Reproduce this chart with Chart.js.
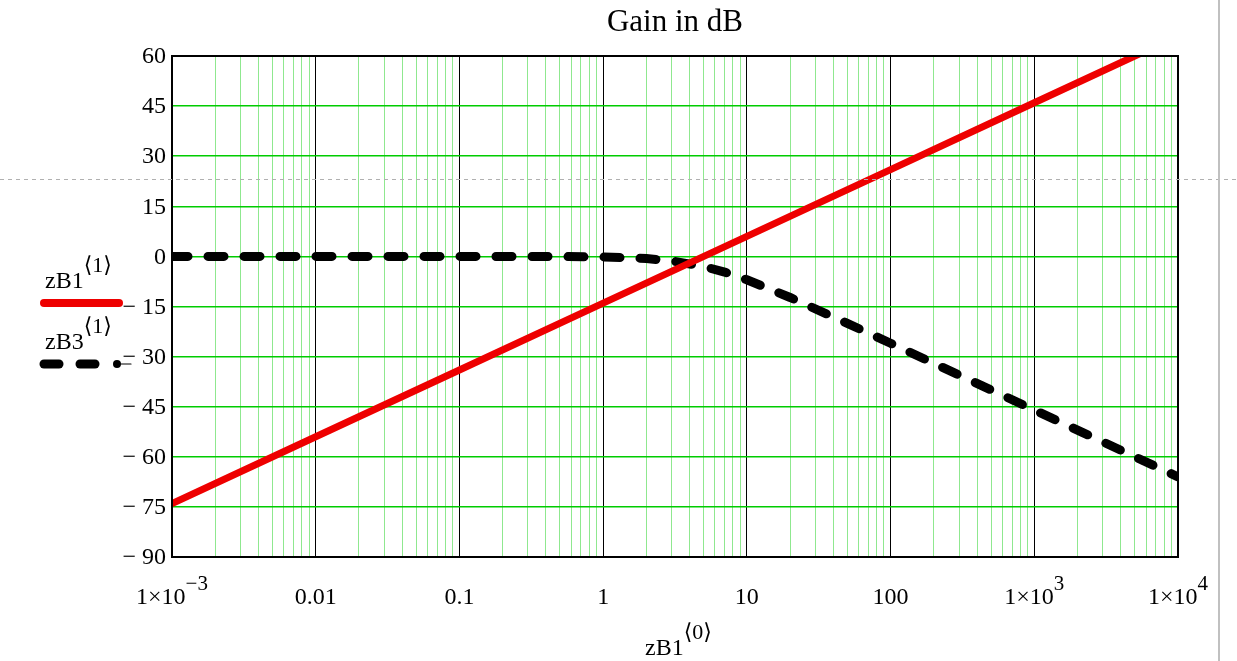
<!DOCTYPE html>
<html>
<head>
<meta charset="utf-8">
<title>Gain in dB</title>
<script src="https://cdn.jsdelivr.net/npm/chart.js@4.4.1/dist/chart.umd.min.js"></script>
<style>
  html, body { margin: 0; padding: 0; background: #fff; }
  #wrap { position: relative; width: 1237px; height: 661px; }
</style>
</head>
<body>
<div id="wrap"><canvas id="gain"></canvas></div>
<script>
// Frequency points (log axis) and gain of the two responses, in dB
const FREQ_B1 = [0.001, 0.01, 0.1, 1, 10, 100, 1000, 10000];
const GAIN_B1 = [-74, -54, -34, -14, 6, 26, 46, 66];

const FREQ_B3 = [0.001, 0.01, 0.1, 0.5, 1, 2, 3, 5, 7, 10, 20, 50, 100, 1000, 10000];
const GAIN_B3 = [0, 0, 0, -0.04, -0.17, -0.64, -1.34, -3.01, -4.7, -6.99, -12.3, -20.04, -26.0, -46.0, -66.0];

const Y_TICKS = [60, 45, 30, 15, 0, -15, -30, -45, -60, -75, -90];
// x tick labels: mantissa text + optional exponent drawn as superscript
const X_LABELS = [
  { v: 0.001, base: '1\u00d710', exp: '\u22123' },
  { v: 0.01,  base: '0.01',      exp: '' },
  { v: 0.1,   base: '0.1',       exp: '' },
  { v: 1,     base: '1',         exp: '' },
  { v: 10,    base: '10',        exp: '' },
  { v: 100,   base: '100',       exp: '' },
  { v: 1000,  base: '1\u00d710', exp: '3' },
  { v: 10000, base: '1\u00d710', exp: '4' },
];

const SERIF = '"Liberation Serif", "DejaVu Serif", serif';
const isDecade = (v) => Math.abs(Math.log10(v) - Math.round(Math.log10(v))) < 1e-9;

// minor log grid: 1..9 per decade
function logGridTicks() {
  const out = [];
  for (let e = -3; e <= 4; e++) {
    for (let m = 1; m <= 9; m++) {
      const v = m * Math.pow(10, e);
      if (v > 10000 * 1.0001) break;
      out.push({ value: v });
    }
  }
  return out;
}

// text with a raised suffix (exponents, column index brackets)
function drawSup(ctx, x, y, base, sup, size, supSize, raise, align) {
  ctx.font = size + 'px ' + SERIF;
  const wb = ctx.measureText(base).width;
  ctx.font = supSize + 'px ' + SERIF;
  const ws = sup ? ctx.measureText(sup).width : 0;
  let x0 = x;
  if (align === 'center') x0 = x - (wb + ws) / 2;
  ctx.textAlign = 'left';
  ctx.textBaseline = 'alphabetic';
  ctx.font = size + 'px ' + SERIF;
  ctx.fillText(base, x0, y);
  if (sup) {
    ctx.font = supSize + 'px ' + SERIF;
    ctx.fillText(sup, x0 + wb, y - raise);
  }
}

const decorations = {
  id: 'decorations',
  afterDraw(chart) {
    const ctx = chart.ctx;
    const a = chart.chartArea;
    const xs = chart.scales.x, ys = chart.scales.y;
    ctx.save();

    // plot frame
    ctx.strokeStyle = '#000';
    ctx.lineWidth = 2;
    ctx.strokeRect(a.left, a.top, a.right - a.left, a.bottom - a.top);

    ctx.fillStyle = '#000';
    // y tick labels
    ctx.font = '24px ' + SERIF;
    ctx.textAlign = 'right';
    ctx.textBaseline = 'middle';
    Y_TICKS.forEach((v) => {
      const t = v < 0 ? '\u2212 ' + Math.abs(v) : String(v);
      ctx.fillText(t, a.left - 6, ys.getPixelForValue(v) + 1);
    });

    // x tick labels
    X_LABELS.forEach((l) => {
      drawSup(ctx, xs.getPixelForValue(l.v), 604, l.base, l.exp, 24, 21, 14, 'center');
    });

    // title and axis title
    ctx.font = '31px ' + SERIF;
    ctx.textAlign = 'center';
    ctx.textBaseline = 'alphabetic';
    ctx.fillText('Gain in dB', (a.left + a.right) / 2, 31);
    drawSup(ctx, 645, 655, 'zB1', '\u27e80\u27e9', 24, 22, 16, 'left');

    // series keys on the left
    drawSup(ctx, 45, 288, 'zB1', '\u27e81\u27e9', 24, 22, 16, 'left');
    ctx.lineCap = 'round';
    ctx.strokeStyle = '#ee0000';
    ctx.lineWidth = 8;
    ctx.beginPath(); ctx.moveTo(44, 303); ctx.lineTo(119, 303); ctx.stroke();

    drawSup(ctx, 45, 349, 'zB3', '\u27e81\u27e9', 24, 22, 16, 'left');
    ctx.strokeStyle = '#000';
    ctx.lineWidth = 9;
    [[44, 59], [80, 95]].forEach(([p, q]) => {
      ctx.beginPath(); ctx.moveTo(p, 364); ctx.lineTo(q, 364); ctx.stroke();
    });
    ctx.beginPath(); ctx.arc(117, 364, 4, 0, Math.PI * 2); ctx.fill();
    ctx.lineWidth = 1.2;
    ctx.beginPath(); ctx.moveTo(121, 364); ctx.lineTo(131, 364); ctx.stroke();

    // guide lines around the page
    ctx.lineCap = 'butt';
    ctx.strokeStyle = '#b0b0b0';
    ctx.lineWidth = 1;
    ctx.setLineDash([4, 4]);
    ctx.beginPath(); ctx.moveTo(0, 179.5); ctx.lineTo(1237, 179.5); ctx.stroke();
    ctx.setLineDash([]);
    ctx.strokeStyle = '#c0c0c0';
    ctx.lineWidth = 2;
    ctx.beginPath(); ctx.moveTo(1219, 0); ctx.lineTo(1219, 661); ctx.stroke();

    ctx.restore();
  },
};

new Chart(document.getElementById('gain'), {
  type: 'line',
  data: {
    datasets: [
      {
        label: 'zB1',
        data: FREQ_B1.map((f, i) => ({ x: f, y: GAIN_B1[i] })),
        borderColor: '#ee0000',
        borderWidth: 7,
        pointRadius: 0,
        tension: 0,
        borderCapStyle: 'round',
      },
      {
        label: 'zB3',
        data: FREQ_B3.map((f, i) => ({ x: f, y: GAIN_B3[i] })),
        borderColor: '#000',
        borderWidth: 9,
        borderDash: [16, 20],
        borderCapStyle: 'round',
        pointRadius: 0,
        tension: 0,
      },
    ],
  },
  options: {
    responsive: true,
    maintainAspectRatio: false,
    animation: false,
    layout: { padding: { left: 172, right: 59, top: 56, bottom: 104 } },
    plugins: { legend: { display: false }, tooltip: { enabled: false } },
    scales: {
      x: {
        type: 'logarithmic',
        min: 0.001,
        max: 10000,
        afterBuildTicks: (s) => { s.ticks = logGridTicks(); },
        ticks: { display: false },
        border: { display: false },
        grid: {
          drawTicks: false,
          color: (c) => (c.tick && isDecade(c.tick.value) ? '#000' : '#8fe88f'),
          lineWidth: 1,
        },
      },
      y: {
        min: -90,
        max: 60,
        afterBuildTicks: (s) => { s.ticks = Y_TICKS.map((v) => ({ value: v })); },
        ticks: { display: false },
        border: { display: false },
        grid: { drawTicks: false, color: '#00cc00', lineWidth: 1.5 },
      },
    },
  },
  plugins: [decorations],
});
</script>
</body>
</html>
